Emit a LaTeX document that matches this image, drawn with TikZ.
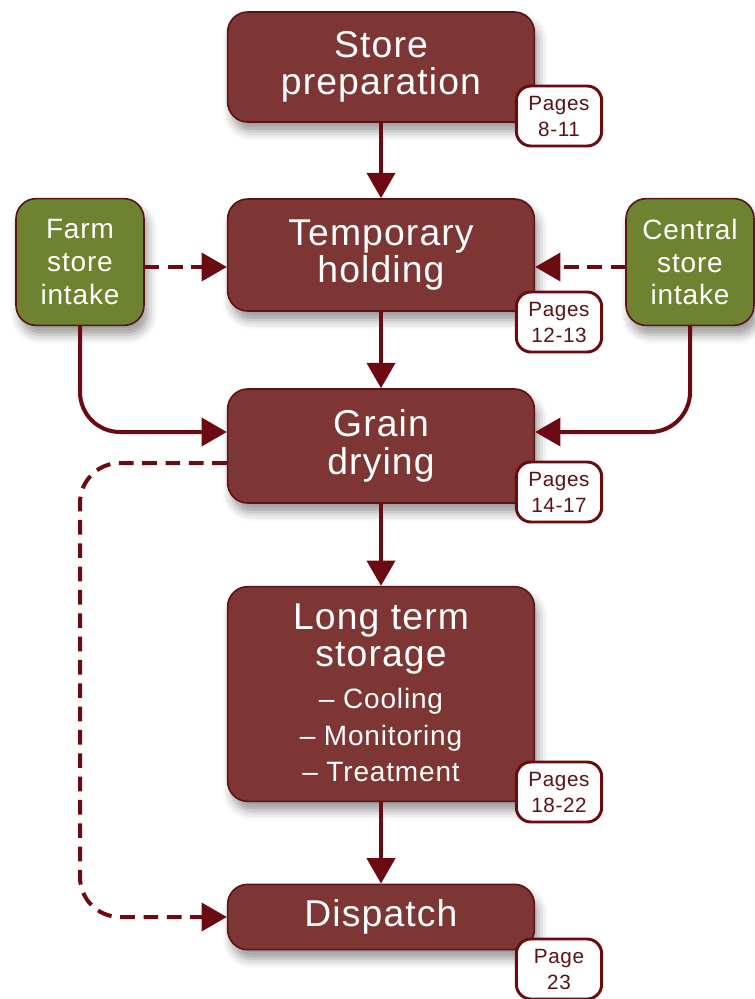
\documentclass[tikz,border=0pt]{standalone}
\usepackage{fontspec}
\setmainfont{Liberation Sans}[LetterSpace=3]
\usetikzlibrary{arrows.meta,shadows.blur}
\definecolor{boxred}{HTML}{7D3633}
\definecolor{edgered}{HTML}{5C1217}
\definecolor{linered}{HTML}{6B0A10}
\definecolor{boxgreen}{HTML}{6D8330}

\begin{document}
\begin{tikzpicture}[x=0.75pt,y=-0.75pt,
    box/.style={draw=edgered,line width=1.2pt,fill=boxred,rounded corners=15pt,text=white,align=center,
      minimum width=230pt,font=\fontsize{28}{28}\selectfont,
      blur shadow={shadow xshift=3pt,shadow yshift=-7pt,shadow blur radius=7pt,shadow opacity=40}},
    sidebox/.style={box,fill=boxgreen,minimum width=96pt,minimum height=95pt,font=\fontsize{21}{24.5}\selectfont},
    pages/.style={draw=linered,line width=2.2pt,fill=white,rounded corners=11pt,text=edgered,align=center,
      minimum width=64pt,minimum height=45pt,inner sep=0pt,font=\fontsize{15.5}{19.5}\selectfont},
    flow/.style={draw=linered,line width=3pt,-{Triangle[length=19pt,width=21pt]}},
    dashflow/.style={flow,dash pattern=on 11pt off 6.5pt},
  ]
    \useasboundingbox (0,0) rectangle (755,999);
    \node[box,minimum height=82.5pt] (prep) at (381,67) {Store\\preparation};
    \node[box,minimum height=84pt] (temp) at (381,255) {Temporary\\holding};
    \node[box,minimum height=85.5pt] (drying) at (381,446) {Grain\\drying};
    \node[box,minimum height=161pt] (storage) at (381,694) {};
    \node[text=white,align=center,font=\fontsize{28}{28}\selectfont] (storagetitle) at (381,639) {Long term\\storage};
    \node[text=white,align=center,font=\fontsize{21}{27.5}\selectfont] (storagelist) at (381,735) {-- Cooling\\-- Monitoring\\-- Treatment};
    \node[box,minimum height=49pt] (dispatch) at (381,917) {Dispatch};
    \node[sidebox] (farm) at (80,262) {Farm\\store\\intake};
    \node[sidebox] (central) at (690,262) {Central\\store\\intake};

    \draw[flow] (prep.south) -- (temp.north);
    \draw[flow] (temp.south) -- (drying.north);
    \draw[flow] (drying.south) -- (storage.north);
    \draw[flow] (storage.south) -- (dispatch.north);
    \draw[dashflow] (farm.east |- 0,267) -- (temp.west |- 0,267);
    \draw[dashflow] (central.west |- 0,267) -- (temp.east |- 0,267);
    \draw[flow,rounded corners=30pt] (farm.south) |- ([yshift=10.5pt]drying.west);
    \draw[flow,rounded corners=30pt] (central.south) |- ([yshift=10.5pt]drying.east);
    \draw[dashflow,rounded corners=30pt] ([yshift=-12.75pt]drying.west) -| (farm.south |- dispatch.west) -- (dispatch.west);

    \node[pages] (prepp) at (559,116) {Pages\\8-11};
    \node[pages] (tempp) at (559,322) {Pages\\12-13};
    \node[pages] (dryingp) at (559,492) {Pages\\14-17};
    \node[pages] (storagep) at (559,792) {Pages\\18-22};
    \node[pages] (dispatchp) at (559,969) {Page\\23};
  \end{tikzpicture}
\end{document}
